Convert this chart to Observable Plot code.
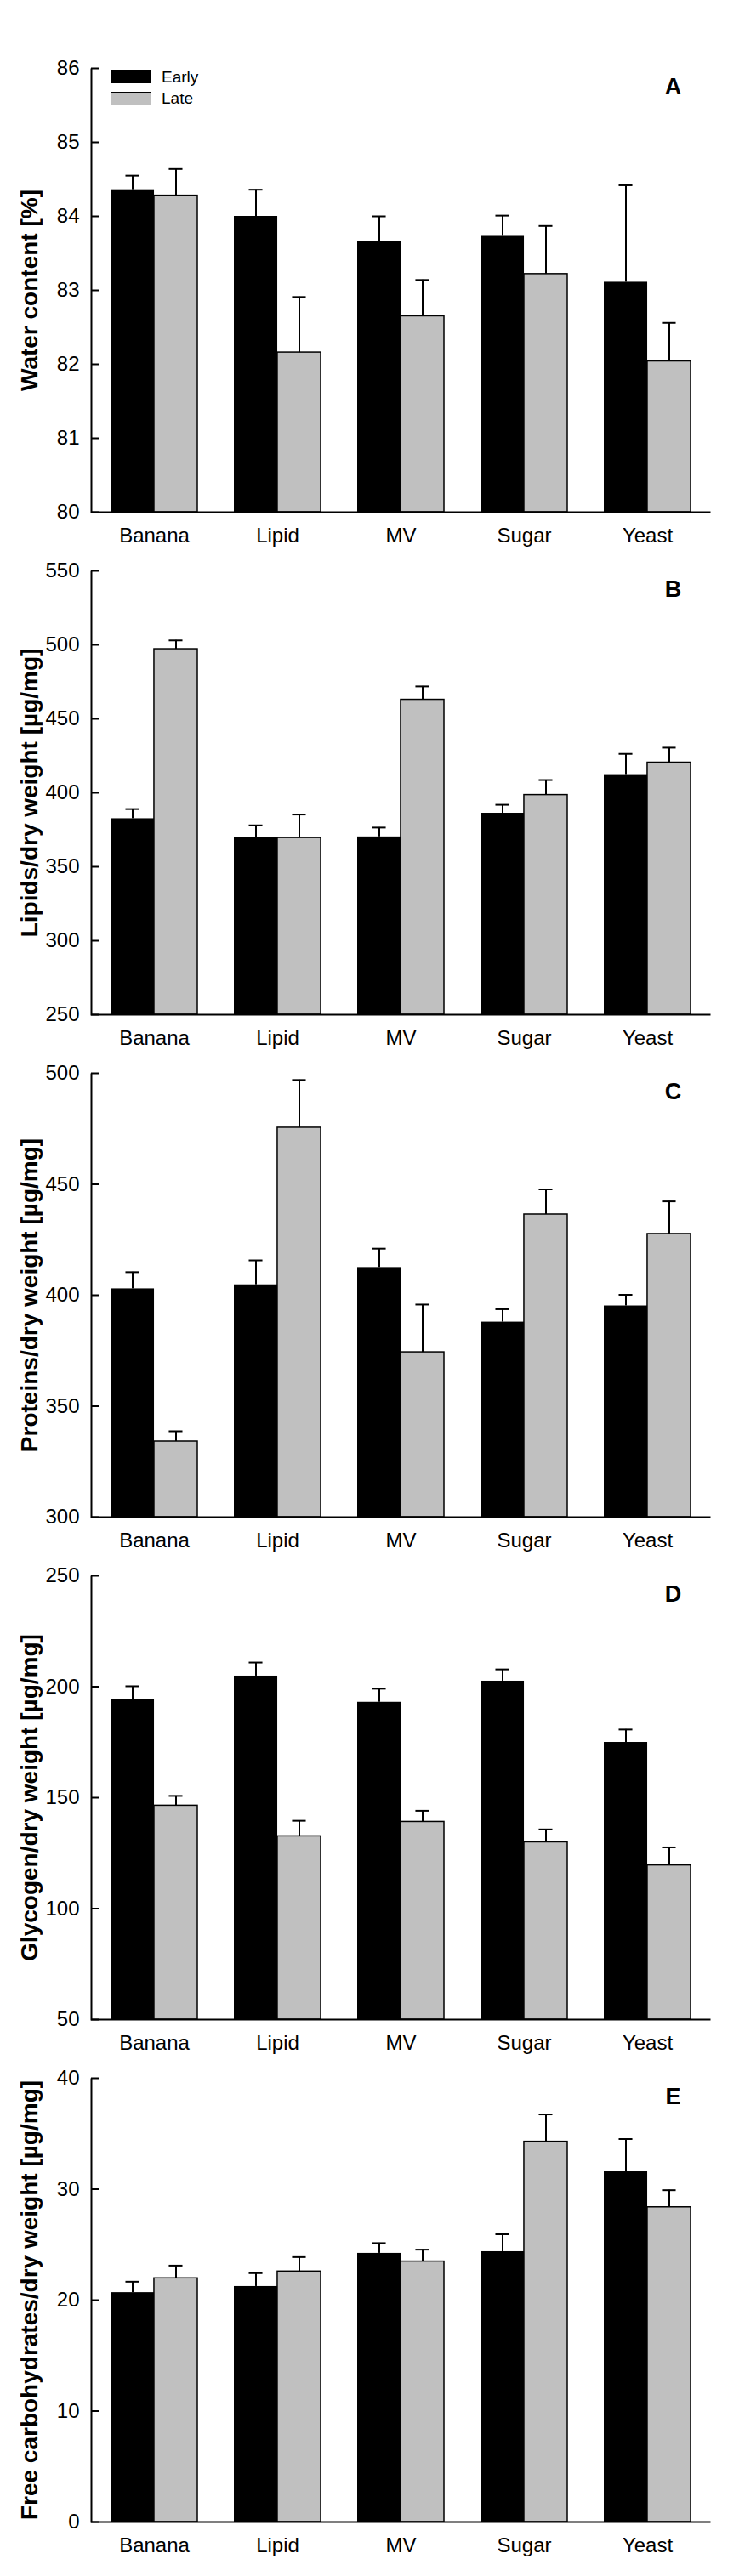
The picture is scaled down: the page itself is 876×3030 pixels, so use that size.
<!DOCTYPE html>
<html>
<head>
<meta charset="utf-8">
<script src="https://cdn.jsdelivr.net/npm/d3@7"></script>
<script src="https://cdn.jsdelivr.net/npm/@observablehq/plot@0.6"></script>
<style>
  body { margin: 0; background: #fff; }
  #wrap { position: relative; width: 876px; padding-top: 60px; font-family: "Liberation Sans", Arial, sans-serif; }
  #wrap svg { display: block; }
  .sw { position: absolute; left: 130px; width: 48px; height: 16px; box-sizing: border-box; }
  .lt { position: absolute; left: 190px; font-size: 19px; line-height: 1; color: #000; }
</style>
</head>
<body>
<div id="wrap"></div>
<script>
// ---- data ----
const categories = ["Banana", "Lipid", "MV", "Sugar", "Yeast"];
const seriesNames = ["Early", "Late"];

const waterEarly   = [84.36, 84.00, 83.66, 83.73, 83.11];
const waterEarlySE = [0.19, 0.36, 0.34, 0.28, 1.31];
const waterLate    = [84.28, 82.16, 82.65, 83.22, 82.04];
const waterLateSE  = [0.36, 0.75, 0.49, 0.65, 0.52];

const lipidsEarly   = [382.5, 369.7, 370.2, 386.2, 412.3];
const lipidsEarlySE = [6.5, 8.3, 6.3, 5.7, 14.0];
const lipidsLate    = [497.1, 369.5, 462.9, 398.5, 420.4];
const lipidsLateSE  = [5.9, 15.8, 9.0, 10.1, 10.1];

const proteinsEarly   = [402.9, 404.7, 412.5, 387.9, 395.2];
const proteinsEarlySE = [7.5, 11.0, 8.5, 5.8, 5.0];
const proteinsLate    = [334.1, 475.5, 374.3, 436.4, 427.6];
const proteinsLateSE  = [4.6, 21.5, 21.5, 11.3, 14.7];

const glycogenEarly   = [194.1, 204.8, 193.0, 202.5, 174.9];
const glycogenEarlySE = [6.1, 6.1, 6.1, 5.3, 5.8];
const glycogenLate    = [146.4, 132.6, 139.1, 129.9, 119.5];
const glycogenLateSE  = [4.4, 7.0, 5.0, 5.8, 8.1];

const carbsEarly   = [20.68, 21.23, 24.22, 24.37, 31.57];
const carbsEarlySE = [0.98, 1.20, 0.92, 1.57, 2.95];
const carbsLate    = [21.97, 22.58, 23.48, 34.28, 28.37];
const carbsLateSE  = [1.14, 1.30, 1.07, 2.46, 1.54];

const panelLabels = ["A", "B", "C", "D", "E"];
const panelTitles = [
  "Water content [%]",
  "Lipids/dry weight [µg/mg]",
  "Proteins/dry weight [µg/mg]",
  "Glycogen/dry weight [µg/mg]",
  "Free carbohydrates/dry weight [µg/mg]"
];
const yDomains = [[80, 86], [250, 550], [300, 500], [50, 250], [0, 40]];
const yTicks = [
  [80, 81, 82, 83, 84, 85, 86],
  [250, 300, 350, 400, 450, 500, 550],
  [300, 350, 400, 450, 500],
  [50, 100, 150, 200, 250],
  [0, 10, 20, 30, 40]
];

const panels = [
  [waterEarly, waterEarlySE, waterLate, waterLateSE],
  [lipidsEarly, lipidsEarlySE, lipidsLate, lipidsLateSE],
  [proteinsEarly, proteinsEarlySE, proteinsLate, proteinsLateSE],
  [glycogenEarly, glycogenEarlySE, glycogenLate, glycogenLateSE],
  [carbsEarly, carbsEarlySE, carbsLate, carbsLateSE]
];

// ---- layout ----
const W = 876, H = 591, mL = 107, mR = 41, mT = 20, mB = 49;
const plotW = W - mL - mR, plotH = H - mT - mB;
const padIn = 0.3, padOut = 0.15;
const step = plotW / (categories.length - padIn + 2 * padOut);
const bw = step * (1 - padIn);
const capHalf = 8;
const font = '"Liberation Sans", Arial, sans-serif';

const wrap = document.getElementById("wrap");

panels.forEach(([e, eSE, l, lSE], k) => {
  const rows = categories.map((c, i) => ({
    cat: c,
    early: e[i], earlyTop: e[i] + eSE[i],
    late: l[i], lateTop: l[i] + lSE[i]
  }));
  const y0 = yDomains[k][0];
  const chart = Plot.plot({
    width: W, height: H,
    marginLeft: mL, marginRight: mR, marginTop: mT, marginBottom: mB,
    style: { fontFamily: font, fontSize: "24px", color: "black", background: "white", overflow: "visible" },
    x: { domain: categories, paddingInner: padIn, paddingOuter: padOut, label: null },
    y: { domain: yDomains[k], label: null },
    marks: [
      Plot.barY(rows, { x: "cat", y1: y0, y2: "early", fill: "black", insetRight: bw / 2 }),
      Plot.barY(rows, { x: "cat", y1: y0, y2: "late", fill: "#c0c0c0", stroke: "black", strokeWidth: 1.5, insetLeft: bw / 2 }),
      Plot.ruleX(rows, { x: "cat", y1: "early", y2: "earlyTop", dx: -bw / 4, stroke: "black", strokeWidth: 2 }),
      Plot.ruleX(rows, { x: "cat", y1: "late", y2: "lateTop", dx: bw / 4, stroke: "black", strokeWidth: 2 }),
      Plot.tickY(rows, { x: "cat", y: "earlyTop", insetLeft: bw / 4 - capHalf, insetRight: 3 * bw / 4 - capHalf, stroke: "black", strokeWidth: 2 }),
      Plot.tickY(rows, { x: "cat", y: "lateTop", insetLeft: 3 * bw / 4 - capHalf, insetRight: bw / 4 - capHalf, stroke: "black", strokeWidth: 2 }),
      Plot.frame({ stroke: "black", strokeWidth: 2, strokeDasharray: `0 ${plotW + plotH} ${plotW + plotH + 4}` }),
      Plot.tickY(yTicks[k], { y: d => d, insetRight: plotW - 9, stroke: "black", strokeWidth: 2 }),
      Plot.axisY(yTicks[k], { tickSize: 0, tickPadding: 14, fontSize: 24, label: null, tickFormat: d => String(d) }),
      Plot.axisX({ tickSize: 0, tickPadding: 18, fontSize: 24, label: null }),
      Plot.text([panelTitles[k]], { text: d => d, frameAnchor: "left", rotate: -90, dx: -72, fontSize: 28, fontWeight: "bold", textAnchor: "middle" }),
      Plot.text([panelLabels[k]], { text: d => d, frameAnchor: "top-right", dx: -44, dy: 11, fontSize: 27, fontWeight: "bold", textAnchor: "middle", lineAnchor: "top" })
    ]
  });
  wrap.appendChild(chart);
});

// legend (inside panel A)
const legendItems = [
  { name: seriesNames[0], fill: "black", border: "none", swTop: 82, txTop: 81 },
  { name: seriesNames[1], fill: "#c0c0c0", border: "1.5px solid black", swTop: 108, txTop: 106 }
];
legendItems.forEach(it => {
  const sw = document.createElement("div");
  sw.className = "sw";
  sw.style.top = it.swTop + "px";
  sw.style.background = it.fill;
  sw.style.border = it.border;
  wrap.appendChild(sw);
  const tx = document.createElement("div");
  tx.className = "lt";
  tx.style.top = it.txTop + "px";
  tx.textContent = it.name;
  wrap.appendChild(tx);
});
</script>
</body>
</html>
